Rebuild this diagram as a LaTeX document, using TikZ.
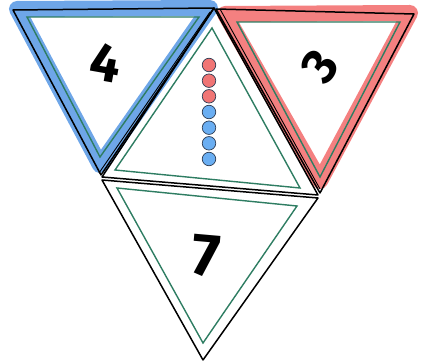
\documentclass[tikz,border=0pt]{standalone}
\usepackage{fontspec}
\setsansfont{Fira Sans}
\definecolor{hlblue}{HTML}{4A90E2}
\definecolor{hlred}{HTML}{F04A4A}
\definecolor{tri}{HTML}{2E7D62}
\definecolor{dotred}{HTML}{F07575}
\definecolor{dotblue}{HTML}{6AAEF2}
\definecolor{dotline}{HTML}{2F3E55}
\tikzset{
  outer/.style={draw=black, line width=1.5pt, line join=round},
  inner/.style={draw=tri, line width=1.4pt, line join=miter},
  hlb/.style={draw=hlblue, opacity=0.8, line width=16pt, line join=round, line cap=round},
  hlr/.style={draw=hlred, opacity=0.7, line width=16pt, line join=round, line cap=round},
  digit/.style={inner sep=0pt},
  reddot/.style={circle, draw=dotline, fill=dotred, line width=0.7pt, minimum size=13.5pt, inner sep=0pt},
  bluedot/.style={circle, draw=dotline, fill=dotblue, line width=0.7pt, minimum size=13.5pt, inner sep=0pt}
}
\begin{document}
\begin{tikzpicture}[x=1pt,y=-1pt]
\useasboundingbox (0,0) rectangle (421,363);
% highlights
\draw[hlb] (17,9) -- (210,8) -- (100,165) -- cycle;
\draw[hlr] (225,14) -- (410,13) -- (320,181) -- cycle;
% outer black triangles
\draw[outer] (13,10) -- (214,8) -- (101,175) -- cycle;
\draw[outer] (216,9) -- (414,14) -- (320,193) -- cycle;
\draw[outer] (214,8) -- (102,177) -- (318,195) -- cycle;
\draw[outer] (102,180) -- (318,198) -- (203,360) -- cycle;
\draw[black, line width=0.9pt] (210,12) -- (99,173);
\draw[black, line width=0.9pt] (220,9) -- (320,189);
% inner green triangles
\draw[inner] (27,17) -- (199,17) -- (100,157) -- cycle;
\draw[inner] (237,22) -- (400,22) -- (320,177) -- cycle;
\draw[inner] (212,28) -- (115,170) -- (300,188) -- cycle;
\draw[inner] (117,188) -- (297,206) -- (203,343) -- cycle;
% dots
\node[reddot] (d1) at (209,65) {};
\node[reddot] (d2) at (209,80.7) {};
\node[reddot] (d3) at (209,96.3) {};
\node[bluedot] (d4) at (209,112) {};
\node[bluedot] (d5) at (209,127.7) {};
\node[bluedot] (d6) at (209,143.3) {};
\node[bluedot] (d7) at (209,159) {};
% digits
\node[digit, font=\sffamily\bfseries\fontsize{54}{54}\selectfont, rotate=-10] (n4) at (106,63) {4};
\node[digit, font=\sffamily\bfseries\fontsize{50}{50}\selectfont, rotate=55] (n3) at (320,66) {3};
\node[digit, font=\sffamily\bfseries\fontsize{60}{60}\selectfont, rotate=-5] (n7) at (206,256) {7};
\end{tikzpicture}
\end{document}
